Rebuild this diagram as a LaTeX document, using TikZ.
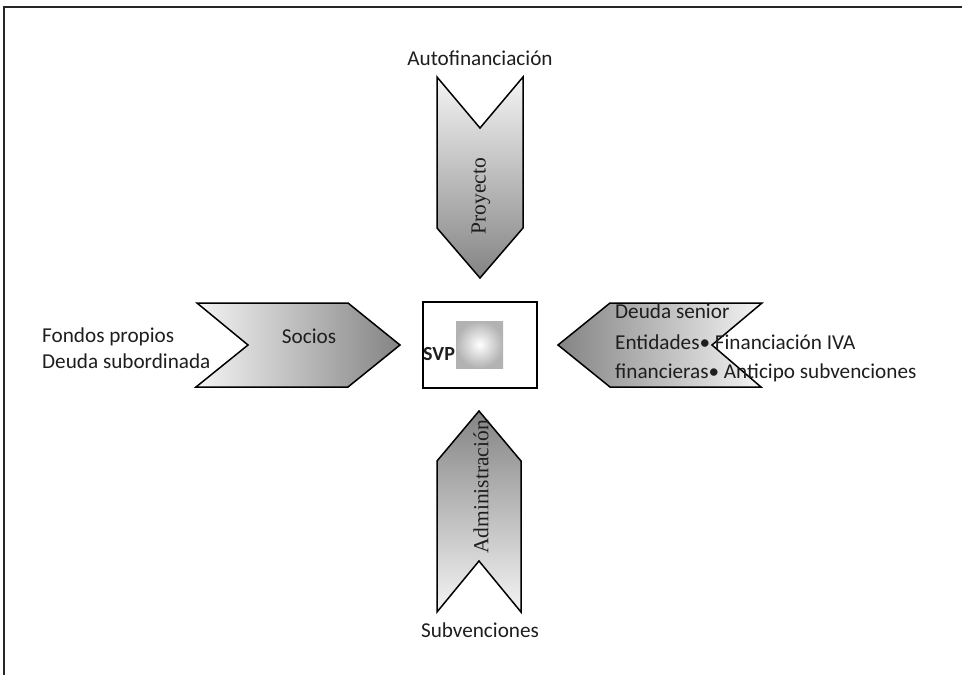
\documentclass[tikz,border=0pt]{standalone}
\usepackage{fontspec}
\setmainfont{Carlito}
\newfontfamily\serifface{Liberation Serif}
\definecolor{chevlight}{RGB}{244,244,244}
\definecolor{chevdark}{RGB}{132,132,132}
\definecolor{inkgray}{RGB}{30,30,30}
\begin{document}
\begin{tikzpicture}[x=1pt,y=-1pt,
  chev/.style={draw=black,line width=1.5pt,line join=miter},
  lbl/.style={font=\fontsize{21.2}{27}\selectfont,text=inkgray,inner sep=0pt},
  vlbl/.style={font=\serifface\fontsize{21.5}{24}\selectfont,text=inkgray,rotate=90,inner sep=0pt}]
\useasboundingbox (0,0) rectangle (962,675);

% open frame: top and left edges only
\draw[line width=1.5pt,black!85] (4,675) -- (4,7) -- (962,7);

% Proyecto (top, pointing down)
\path[chev,top color=chevlight,bottom color=chevdark]
  (437,77) -- (480,128) -- (523,77) -- (523,228) -- (480,278) -- (437,228) -- cycle;
\node[vlbl] (proy) at (481,196) {Proyecto};
\node[lbl,anchor=base] (auto) at (480,65) {Autofinanciación};

% Administracion (bottom, pointing up)
\path[chev,top color=chevdark,bottom color=chevlight]
  (479,411) -- (521,461) -- (521,612) -- (479,561) -- (437,612) -- (437,461) -- cycle;
\node[vlbl] (admin) at (481,487) {Administración};
\node[lbl,anchor=base] (subv) at (480,637) {Subvenciones};

% Socios (left, pointing right)
\path[chev,left color=chevlight,right color=chevdark]
  (197,303) -- (348,303) -- (400,345) -- (348,387) -- (196,387) -- (248,345) -- cycle;
\node[lbl,anchor=base] (socios) at (309,343) {Socios};
\node[lbl,anchor=base west] (fondos) at (42,342) {Fondos propios};
\node[lbl,anchor=base west] (subord) at (42,368) {Deuda subordinada};

% Entidades financieras (right, pointing left)
\path[chev,left color=chevdark,right color=chevlight]
  (558,345) -- (610,303) -- (762,303) -- (712,345) -- (761,387) -- (610,387) -- cycle;
\node[lbl,anchor=base west] (senior) at (615,318) {Deuda senior};
\node[lbl,anchor=base west] (ent) at (615,349) {Entidades• Financiación IVA};
\node[lbl,anchor=base west] (fin) at (615,378) {financieras• Anticipo subvenciones};

% SVP box with a soft square tile inside
\node[draw=black,line width=1.5pt,minimum width=114pt,minimum height=86pt,inner sep=0pt] (svp) at (480,345) {};
\shade[inner color=white,outer color=black!30] (456,321) rectangle (503,368);
\node[lbl,font=\bfseries\fontsize{20}{24}\selectfont,anchor=base west] (svplbl) at (423,360) {SVP};
\end{tikzpicture}
\end{document}
